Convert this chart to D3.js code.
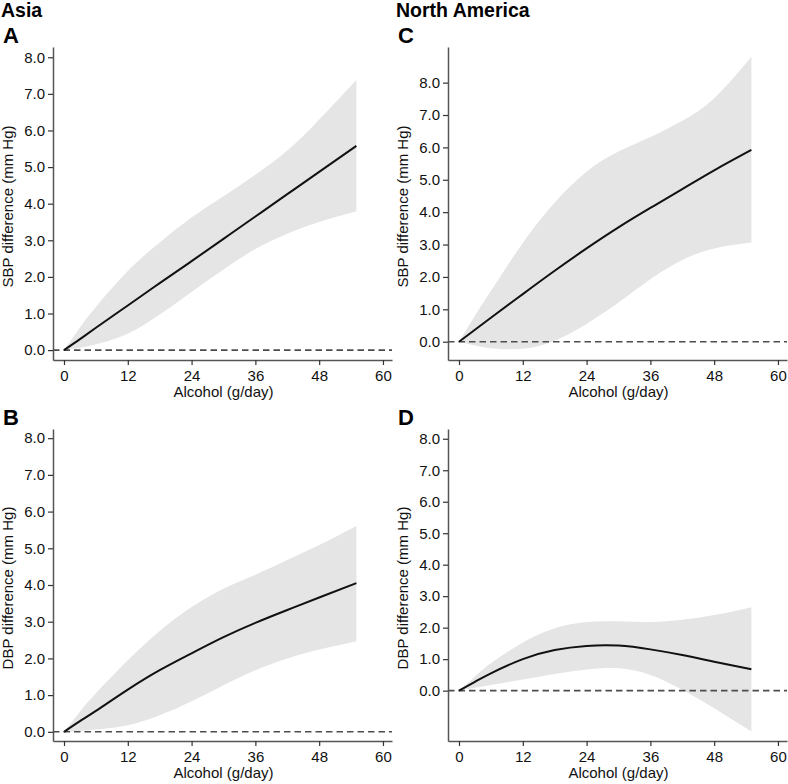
<!DOCTYPE html>
<html>
<head>
<meta charset="utf-8">
<script src="https://cdn.jsdelivr.net/npm/d3@7"></script>
<style>
  html, body { margin: 0; padding: 0; background: #fff; }
  svg { display: block; font-family: "Liberation Sans", Arial, Helvetica, sans-serif; }
</style>
</head>
<body>
<svg id="chart" width="788" height="784"></svg>
<script>
// ---- data ----
const alcohol = [0, 3, 6, 12, 18, 24, 30, 36, 42, 48, 55];
const xTicks = [0, 12, 24, 36, 48, 60];
const yTicks = [0, 1, 2, 3, 4, 5, 6, 7, 8];

const sbpAsia      = [0, 0.30, 0.61, 1.22, 1.83, 2.43, 3.04, 3.65, 4.26, 4.87, 5.58];
const sbpAsiaUpper = [0, 0.62, 1.18, 2.16, 2.94, 3.62, 4.20, 4.79, 5.45, 6.30, 7.38];
const sbpAsiaLower = [0, 0.06, 0.16, 0.45, 0.97, 1.59, 2.20, 2.76, 3.18, 3.50, 3.79];

const dbpAsia      = [0, 0.29, 0.57, 1.15, 1.68, 2.14, 2.58, 2.97, 3.32, 3.66, 4.05];
const dbpAsiaUpper = [0, 0.55, 1.05, 1.95, 2.75, 3.40, 3.90, 4.28, 4.68, 5.09, 5.61];
const dbpAsiaLower = [0, 0.02, 0.06, 0.18, 0.45, 0.83, 1.27, 1.68, 2.00, 2.24, 2.47];

const sbpNA      = [0, 0.37, 0.74, 1.47, 2.19, 2.88, 3.53, 4.13, 4.71, 5.29, 5.92];
const sbpNAUpper = [0, 0.80, 1.57, 3.05, 4.30, 5.25, 5.87, 6.32, 6.82, 7.52, 8.80];
const sbpNALower = [0, -0.12, -0.20, -0.22, 0.03, 0.55, 1.21, 1.93, 2.52, 2.88, 3.06];

const dbpNA      = [0, 0.28, 0.55, 1.00, 1.29, 1.42, 1.43, 1.31, 1.13, 0.92, 0.68];
const dbpNAUpper = [0, 0.45, 0.87, 1.53, 1.98, 2.18, 2.20, 2.18, 2.25, 2.40, 2.65];
const dbpNALower = [0, 0.09, 0.18, 0.35, 0.53, 0.67, 0.71, 0.50, 0.03, -0.56, -1.30];

const regionTitles = ["Asia", "North America"];
const panelLetters = ["A", "B", "C", "D"];
const xTitle = "Alcohol (g/day)";
const yTitles = ["SBP difference (mm Hg)", "DBP difference (mm Hg)"];

// ---- layout ----
const svg = d3.select("#chart");
const panels = [
  { letter: panelLetters[0], col: 0, row: 0, est: sbpAsia, up: sbpAsiaUpper, lo: sbpAsiaLower, ydom: [-0.27, 8.28], ytitle: yTitles[0] },
  { letter: panelLetters[1], col: 0, row: 1, est: dbpAsia, up: dbpAsiaUpper, lo: dbpAsiaLower, ydom: [-0.25, 8.25], ytitle: yTitles[1] },
  { letter: panelLetters[2], col: 1, row: 0, est: sbpNA,   up: sbpNAUpper,   lo: sbpNALower,   ydom: [-0.565, 9.1], ytitle: yTitles[0] },
  { letter: panelLetters[3], col: 1, row: 1, est: dbpNA,   up: dbpNAUpper,   lo: dbpNALower,   ydom: [-1.6, 8.31],  ytitle: yTitles[1] }
];
const colX = [53, 448];
const rowTop = [47, 429];
const rowBottom = [360, 741];
const plotW = 339;

svg.append("text").attr("x", 1).attr("y", 16.5).attr("font-size", 19.5).attr("font-weight", "bold").text(regionTitles[0]);
svg.append("text").attr("x", 396).attr("y", 16.5).attr("font-size", 19.5).attr("font-weight", "bold").text(regionTitles[1]);

panels.forEach(p => {
  const left = colX[p.col], top = rowTop[p.row], bottom = rowBottom[p.row];
  const x = d3.scaleLinear().domain([-2.07, 61.7]).range([left, left + plotW]);
  const y = d3.scaleLinear().domain(p.ydom).range([bottom, top]);
  const g = svg.append("g");

  const pts = alcohol.map((a, i) => ({ a, e: p.est[i], u: p.up[i], l: p.lo[i] }));
  const curve = d3.curveNatural;

  g.append("path").datum(pts)
    .attr("d", d3.area().x(d => x(d.a)).y0(d => y(d.l)).y1(d => y(d.u)).curve(curve))
    .attr("fill", "#e5e5e5");

  g.append("line")
    .attr("x1", left).attr("x2", left + plotW)
    .attr("y1", y(0)).attr("y2", y(0))
    .attr("stroke", "#4d4d4d").attr("stroke-width", 1.6).attr("stroke-dasharray", "6.5,4");

  g.append("path").datum(pts)
    .attr("d", d3.line().x(d => x(d.a)).y(d => y(d.e)).curve(curve))
    .attr("fill", "none").attr("stroke", "#111").attr("stroke-width", 2);

  const yAxis = g.append("g").attr("transform", `translate(${left},0)`)
    .call(d3.axisLeft(y).tickValues(yTicks).tickFormat(d3.format(".1f")).tickSize(5).tickSizeOuter(0).tickPadding(3));
  const xAxis = g.append("g").attr("transform", `translate(0,${bottom})`)
    .call(d3.axisBottom(x).tickValues(xTicks).tickFormat(d3.format("d")).tickSize(5).tickSizeOuter(0).tickPadding(4));
  [yAxis, xAxis].forEach(ax => {
    ax.select(".domain").attr("stroke", "#555").attr("stroke-width", 1.5);
    ax.selectAll(".tick line").attr("stroke", "#333").attr("stroke-width", 1.2);
    ax.selectAll(".tick text").attr("fill", "#111").attr("font-size", 15)
      .attr("font-family", '"Liberation Sans", Arial, sans-serif');
  });
  xAxis.selectAll(".tick text").attr("dy", "0.78em");

  g.append("text")
    .attr("x", x(30)).attr("y", bottom + 37)
    .attr("text-anchor", "middle").attr("font-size", 15).attr("fill", "#111")
    .text(xTitle);

  const yc = (top + bottom) / 2 + 3;
  g.append("text")
    .attr("transform", `translate(${left - 40},${yc}) rotate(-90)`)
    .attr("text-anchor", "middle").attr("font-size", 15).attr("fill", "#111")
    .text(p.ytitle);

  g.append("text")
    .attr("x", p.col === 0 ? 3 : 398).attr("y", p.row === 0 ? 42.5 : 424.5)
    .attr("font-size", 22).attr("font-weight", "bold")
    .text(p.letter);
});
</script>
</body>
</html>
